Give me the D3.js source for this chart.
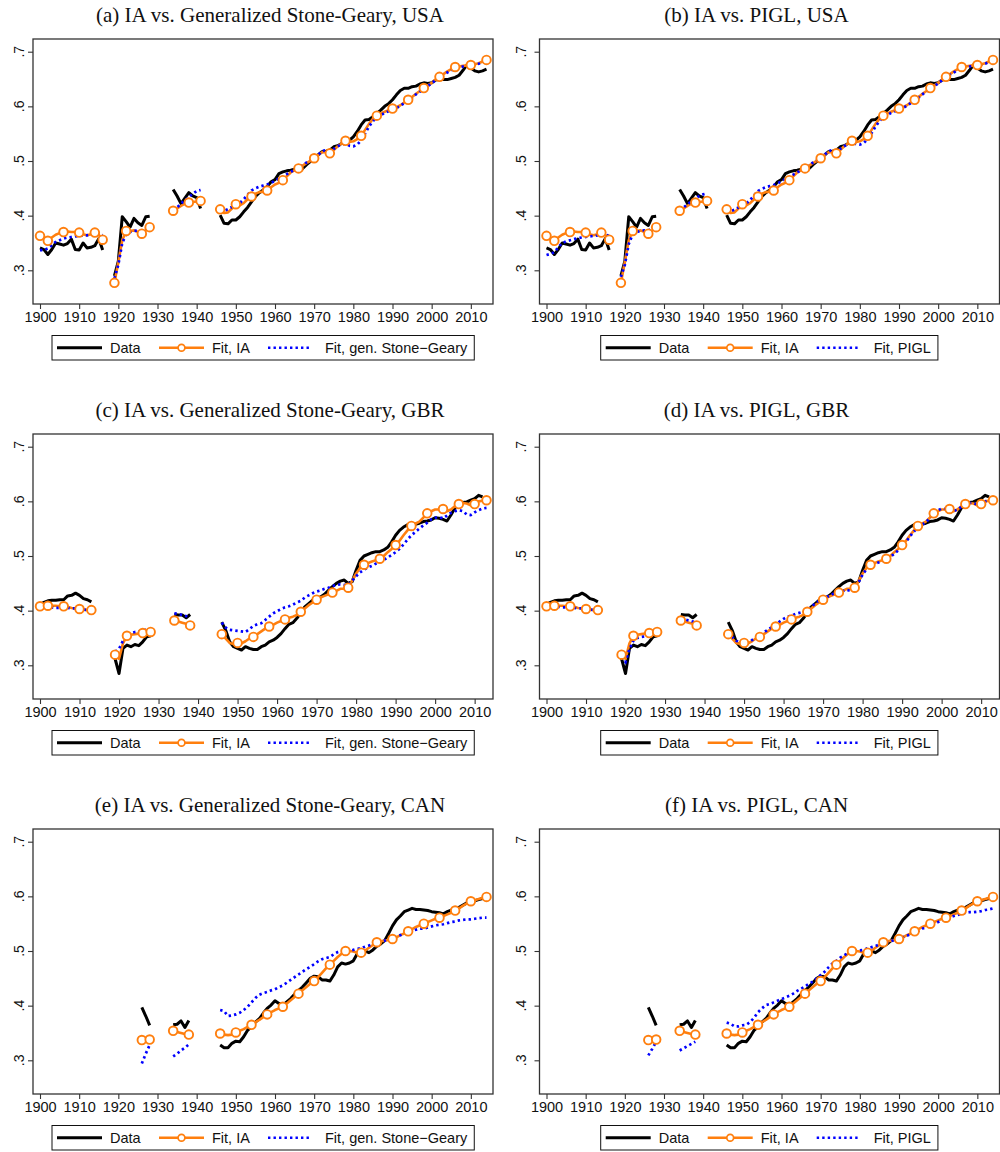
<!DOCTYPE html>
<html>
<head>
<meta charset="utf-8">
<script src="https://cdn.jsdelivr.net/npm/d3@7"></script>
<style>
  html, body { margin: 0; padding: 0; background: #fff; }
  svg { display: block; }
</style>
</head>
<body>
<script>
// ---------- DATA (segments: [startYear, values]) ----------
const xTickValues = [1900, 1910, 1920, 1930, 1940, 1950, 1960, 1970, 1980, 1990, 2000, 2010];
const yTickValues = [0.3, 0.4, 0.5, 0.6, 0.7];
const yTickLabels = [".3", ".4", ".5", ".6", ".7"];

const usaData = [
  [1900, [0.341,0.338,0.329,0.338,0.350,0.348,0.346,0.349,0.357,0.338,0.337,0.350,0.341,0.342,0.345,0.358,0.337]],
  [1919, [0.290,0.317,0.398,0.389,0.379,0.395,0.387,0.382,0.398,0.399]],
  [1934, [0.448,0.436,0.422,0.432,0.442,0.436,0.433,0.413]],
  [1946, [0.401,0.386,0.385,0.392,0.392,0.398,0.407,0.415,0.425,0.435,
          0.442,0.447,0.453,0.462,0.466,0.477,0.480,0.482,0.483,0.485,
          0.486,0.486,0.493,0.499,0.505,0.511,0.517,0.518,0.520,0.526,
          0.528,0.532,0.535,0.538,0.544,0.554,0.566,0.575,0.576,0.581,
          0.587,0.593,0.600,0.605,0.612,0.621,0.629,0.633,0.633,0.636,
          0.637,0.641,0.643,0.642,0.643,0.648,0.650,0.649,0.649,0.651,
          0.653,0.657,0.666,0.676,0.670,0.665,0.663,0.665,0.668]]
];
const usaIA = [
  [1900, [0.363,0.357,0.354,0.360,0.365,0.368,0.370,0.371,0.370,0.370,0.369,0.366,0.364,0.366,0.369,0.365,0.356]],
  [1919, [0.277,0.315,0.355,0.372,0.372,0.373,0.370,0.367,0.373,0.379]],
  [1934, [0.409,0.413,0.418,0.422,0.424,0.425,0.426,0.427]],
  [1946, [0.4115,0.405,0.406,0.413,0.421,0.419,0.423,0.430,0.435,0.440,
          0.443,0.444,0.446,0.452,0.457,0.460,0.465,0.472,0.479,0.483,
          0.4865,0.491,0.496,0.500,0.505,0.511,0.516,0.516,0.514,0.520,
          0.527,0.532,0.537,0.535,0.536,0.540,0.546,0.557,0.568,0.577,
          0.583,0.587,0.590,0.593,0.596,0.598,0.602,0.607,0.612,0.617,
          0.623,0.628,0.6335,0.638,0.643,0.649,0.654,0.659,0.664,0.668,
          0.672,0.673,0.674,0.675,0.6756,0.677,0.679,0.682,0.685]]
];
const usaGSG = [
  [1900, [0.337,0.337,0.340,0.346,0.352,0.355,0.358,0.360,0.361,0.362,0.363,0.364,0.364,0.365,0.366,0.366,0.364]],
  [1919, [0.285,0.310,0.350,0.366,0.370,0.372,0.373,0.373,0.376,0.380]],
  [1934, [0.410,0.415,0.422,0.428,0.434,0.440,0.445,0.447]],
  [1946, [0.408,0.409,0.412,0.416,0.419,0.423,0.430,0.438,0.446,0.450,
          0.453,0.455,0.457,0.460,0.464,0.468,0.471,0.476,0.480,0.484,
          0.487,0.492,0.497,0.501,0.505,0.511,0.518,0.520,0.518,0.522,
          0.527,0.530,0.532,0.528,0.527,0.530,0.538,0.550,0.563,0.573,
          0.580,0.584,0.588,0.591,0.594,0.597,0.601,0.606,0.611,0.616,
          0.622,0.627,0.632,0.637,0.642,0.648,0.653,0.658,0.662,0.666,
          0.669,0.671,0.673,0.674,0.675,0.676,0.678,0.681,0.683]]
];
const usaPIGL = [
  [1900, [0.328,0.330,0.333,0.342,0.350,0.353,0.355,0.357,0.359,0.360,0.361,0.362,0.363,0.364,0.365,0.365,0.363]],
  [1919, [0.288,0.310,0.348,0.366,0.370,0.372,0.373,0.373,0.376,0.380]],
  [1934, [0.410,0.415,0.421,0.426,0.431,0.436,0.439,0.441]],
  [1946, [0.407,0.408,0.411,0.415,0.418,0.422,0.429,0.437,0.445,0.449,
          0.452,0.454,0.456,0.459,0.463,0.467,0.470,0.475,0.479,0.483,
          0.487,0.492,0.497,0.501,0.505,0.511,0.518,0.520,0.518,0.522,
          0.527,0.531,0.534,0.531,0.530,0.533,0.540,0.551,0.563,0.573,
          0.580,0.584,0.588,0.591,0.594,0.597,0.601,0.606,0.611,0.616,
          0.622,0.627,0.632,0.637,0.642,0.648,0.653,0.658,0.662,0.666,
          0.669,0.671,0.673,0.674,0.675,0.676,0.678,0.681,0.683]]
];

const gbrData = [
  [1900, [0.412,0.415,0.418,0.419,0.419,0.420,0.420,0.427,0.428,0.432,0.428,0.422,0.420,0.416]],
  [1919, [0.312,0.285,0.331,0.337,0.334,0.338,0.336,0.343,0.352,0.354]],
  [1934, [0.393,0.392,0.392,0.387,0.393]],
  [1946, [0.379,0.364,0.343,0.334,0.331,0.328,0.334,0.331,0.329,0.329,
          0.334,0.337,0.343,0.346,0.351,0.358,0.367,0.375,0.378,0.386,
          0.396,0.407,0.413,0.419,0.422,0.425,0.430,0.437,0.444,0.450,
          0.454,0.456,0.450,0.453,0.474,0.492,0.500,0.503,0.506,0.508,
          0.508,0.511,0.516,0.526,0.538,0.547,0.553,0.557,0.557,0.558,
          0.560,0.563,0.564,0.566,0.570,0.569,0.567,0.564,0.575,0.588,
          0.596,0.598,0.599,0.602,0.605,0.611,0.608]]
];
const gbrIA = [
  [1900, [0.408,0.409,0.409,0.409,0.409,0.408,0.408,0.407,0.405,0.404,0.403,0.402,0.401,0.401]],
  [1919, [0.3195,0.312,0.340,0.354,0.356,0.357,0.358,0.359,0.361,0.361]],
  [1934, [0.382,0.380,0.378,0.376,0.373]],
  [1946, [0.357,0.349,0.341,0.339,0.341,0.340,0.344,0.349,0.352,0.357,
          0.362,0.367,0.371,0.374,0.378,0.381,0.384,0.387,0.389,0.392,
          0.398,0.404,0.410,0.415,0.420,0.424,0.427,0.430,0.433,0.436,
          0.440,0.440,0.442,0.455,0.468,0.478,0.484,0.487,0.490,0.492,
          0.495,0.500,0.507,0.513,0.520,0.528,0.538,0.547,0.555,0.559,
          0.563,0.570,0.578,0.582,0.585,0.585,0.586,0.582,0.585,0.591,
          0.595,0.597,0.596,0.593,0.595,0.600,0.601,0.602]]
];
const gbrGSG = [
  [1900, [0.409,0.408,0.407,0.406,0.405,0.405,0.405,0.405,0.404,0.404,0.403,0.402,0.401,0.400]],
  [1919, [0.325,0.330,0.345,0.355,0.359,0.361,0.362,0.363,0.366,0.366]],
  [1934, [0.395,0.394,0.392,0.390,0.389]],
  [1946, [0.378,0.369,0.365,0.364,0.363,0.362,0.361,0.366,0.372,0.375,
          0.377,0.383,0.389,0.395,0.399,0.403,0.406,0.408,0.411,0.415,
          0.418,0.424,0.428,0.432,0.435,0.437,0.440,0.442,0.445,0.447,
          0.448,0.447,0.447,0.455,0.463,0.470,0.475,0.479,0.482,0.486,
          0.489,0.493,0.497,0.502,0.507,0.513,0.521,0.530,0.538,0.544,
          0.550,0.556,0.561,0.567,0.570,0.571,0.569,0.574,0.579,0.582,
          0.584,0.582,0.576,0.575,0.580,0.584,0.587,0.588]]
];
const gbrPIGL = [
  [1900, [0.408,0.408,0.407,0.407,0.406,0.406,0.405,0.405,0.404,0.404,0.403,0.402,0.401,0.400]],
  [1919, [0.315,0.306,0.330,0.345,0.350,0.352,0.353,0.357,0.360,0.362]],
  [1934, [0.385,0.384,0.382,0.380,0.378]],
  [1946, [0.360,0.352,0.345,0.341,0.340,0.342,0.346,0.351,0.355,0.360,
          0.365,0.370,0.375,0.380,0.385,0.389,0.391,0.394,0.396,0.398,
          0.402,0.407,0.413,0.418,0.421,0.425,0.429,0.432,0.434,0.436,
          0.438,0.436,0.438,0.452,0.466,0.476,0.482,0.485,0.488,0.490,
          0.493,0.498,0.504,0.510,0.517,0.526,0.536,0.545,0.552,0.557,
          0.562,0.569,0.577,0.583,0.587,0.586,0.585,0.582,0.585,0.590,
          0.594,0.597,0.597,0.594,0.595,0.600,0.602,0.603]]
];

const canData = [
  [1926, [0.397,0.381,0.364]],
  [1934, [0.365,0.366,0.372,0.360,0.373]],
  [1946, [0.328,0.323,0.323,0.331,0.335,0.334,0.343,0.355,0.361,0.370,
          0.376,0.386,0.395,0.401,0.409,0.404,0.401,0.407,0.413,0.421,
          0.428,0.434,0.442,0.450,0.454,0.453,0.447,0.447,0.445,0.456,
          0.471,0.478,0.476,0.478,0.482,0.495,0.499,0.500,0.497,0.502,
          0.509,0.513,0.519,0.532,0.546,0.557,0.564,0.572,0.575,0.578,
          0.576,0.576,0.575,0.574,0.572,0.571,0.570,0.568,0.572,0.575,
          0.576,0.580,0.584,0.588,0.590,0.592,0.594,0.596,0.598]]
];
const canIA = [
  [1926, [0.337,0.337,0.338]],
  [1934, [0.354,0.352,0.350,0.348,0.347]],
  [1946, [0.349,0.347,0.346,0.347,0.351,0.354,0.357,0.361,0.365,0.370,
          0.374,0.379,0.384,0.388,0.392,0.395,0.398,0.404,0.410,0.416,
          0.422,0.428,0.434,0.440,0.445,0.452,0.460,0.468,0.475,0.482,
          0.489,0.495,0.500,0.500,0.499,0.497,0.497,0.501,0.506,0.511,
          0.516,0.518,0.519,0.520,0.522,0.525,0.529,0.532,0.536,0.540,
          0.544,0.547,0.550,0.553,0.556,0.559,0.561,0.564,0.567,0.570,
          0.574,0.578,0.583,0.587,0.591,0.593,0.595,0.597,0.599]]
];
const canGSG = [
  [1926, [0.294,0.312,0.328]],
  [1934, [0.307,0.312,0.318,0.323,0.329]],
  [1946, [0.392,0.390,0.381,0.382,0.384,0.387,0.392,0.398,0.406,0.414,
          0.420,0.423,0.425,0.428,0.430,0.434,0.437,0.442,0.447,0.452,
          0.457,0.462,0.467,0.471,0.476,0.481,0.485,0.487,0.489,0.494,
          0.498,0.500,0.501,0.501,0.502,0.504,0.505,0.508,0.510,0.512,
          0.515,0.517,0.519,0.522,0.524,0.527,0.529,0.532,0.534,0.537,
          0.539,0.541,0.541,0.543,0.545,0.547,0.548,0.549,0.551,0.553,
          0.554,0.556,0.557,0.558,0.558,0.559,0.560,0.561,0.561]]
];
const canPIGL = [
  [1926, [0.309,0.321,0.334]],
  [1934, [0.318,0.322,0.326,0.330,0.334]],
  [1946, [0.369,0.367,0.362,0.362,0.364,0.365,0.370,0.378,0.388,0.395,
          0.401,0.403,0.406,0.409,0.412,0.415,0.418,0.422,0.427,0.431,
          0.435,0.440,0.444,0.450,0.456,0.462,0.470,0.477,0.482,0.488,
          0.492,0.497,0.500,0.501,0.501,0.502,0.505,0.507,0.509,0.512,
          0.514,0.516,0.518,0.521,0.523,0.525,0.528,0.531,0.534,0.537,
          0.541,0.544,0.547,0.550,0.553,0.556,0.559,0.562,0.564,0.566,
          0.568,0.570,0.571,0.571,0.572,0.573,0.575,0.576,0.578]]
];

const panelTitles = [
  "(a) IA vs. Generalized Stone-Geary, USA", "(b) IA vs. PIGL, USA",
  "(c) IA vs. Generalized Stone-Geary, GBR", "(d) IA vs. PIGL, GBR",
  "(e) IA vs. Generalized Stone-Geary, CAN", "(f) IA vs. PIGL, CAN"
];
const legendLabels = ["Data", "Fit, IA", "Fit, gen. Stone\u2212Geary", "Fit, PIGL"];

// ---------- LAYOUT ----------
const W = 1000, H = 1152;
const SANS = "'Liberation Sans', Arial, Helvetica, sans-serif";
const SERIF = "'Liberation Serif', 'Times New Roman', Times, serif";
const C_DATA = "#000000", C_IA = "#ff7f0e", C_ALT = "#0000ff", C_FRAME = "#333333";

const cols = [
  { fl: 33, fr: 493, titleX: 270, yLabX: 24, legX: 52 },
  { fl: 539.5, fr: 999.5, titleX: 756.5, yLabX: 525.5, legX: 600.7 }
];
const rowOff = [0, 395, 790];

const panels = [
  { title: panelTitles[0], col: 0, row: 0, data: usaData, ia: usaIA, alt: usaGSG, altLab: legendLabels[2], last: 2014 },
  { title: panelTitles[1], col: 1, row: 0, data: usaData, ia: usaIA, alt: usaPIGL, altLab: legendLabels[3], last: 2014 },
  { title: panelTitles[2], col: 0, row: 1, data: gbrData, ia: gbrIA, alt: gbrGSG, altLab: legendLabels[2], last: 2013 },
  { title: panelTitles[3], col: 1, row: 1, data: gbrData, ia: gbrIA, alt: gbrPIGL, altLab: legendLabels[3], last: 2013 },
  { title: panelTitles[4], col: 0, row: 2, data: canData, ia: canIA, alt: canGSG, altLab: legendLabels[2], last: 2014 },
  { title: panelTitles[5], col: 1, row: 2, data: canData, ia: canIA, alt: canPIGL, altLab: legendLabels[3], last: 2014 }
];

const svg = d3.select("body").append("svg")
  .attr("width", W).attr("height", H)
  .attr("viewBox", `0 0 ${W} ${H}`);
svg.append("rect").attr("width", W).attr("height", H).attr("fill", "#fff");

const toPts = seg => seg[1].map((v, i) => ({ year: seg[0] + i, v }));

panels.forEach(p => {
  const c = cols[p.col], off = rowOff[p.row];
  const top = 39 + off, bot = top + 265;
  const g = svg.append("g");

  const x = d3.scaleLinear().domain([1900, p.last]).range([c.fl + 7, c.fr - 6.5]);
  const y = d3.scaleLinear().domain([0.3, 0.7]).range([top + 231.3, top + 12.7]);

  // title
  g.append("text").attr("x", c.titleX).attr("y", 21.7 + off)
    .attr("text-anchor", "middle").attr("font-family", SERIF)
    .attr("font-size", 21).attr("fill", "#111").text(p.title);

  // frame
  g.append("rect").attr("x", c.fl).attr("y", top)
    .attr("width", c.fr - c.fl).attr("height", bot - top)
    .attr("fill", "none").attr("stroke", C_FRAME).attr("stroke-width", 1.3);

  // x axis
  const xa = g.append("g").attr("transform", `translate(0,${bot})`)
    .call(d3.axisBottom(x).tickValues(xTickValues).tickSize(5).tickPadding(3).tickFormat(d3.format("d")));
  xa.select(".domain").remove();
  xa.selectAll(".tick line").attr("stroke", C_FRAME).attr("stroke-width", 1.1);
  xa.selectAll(".tick text").attr("font-family", SANS).attr("font-size", 14.5).attr("fill", "#111");

  // y axis
  const ya = g.append("g").attr("transform", `translate(${c.fl},0)`)
    .call(d3.axisLeft(y).tickValues(yTickValues).tickSize(5).tickFormat(""));
  ya.select(".domain").remove();
  ya.selectAll(".tick line").attr("stroke", C_FRAME).attr("stroke-width", 1.1);
  yTickValues.forEach((v, i) => {
    g.append("text")
      .attr("transform", `translate(${c.yLabX},${y(v)}) rotate(-90)`)
      .attr("text-anchor", "middle").attr("font-family", SANS)
      .attr("font-size", 14).attr("fill", "#111").text(yTickLabels[i]);
  });

  const line = d3.line().x(d => x(d.year)).y(d => y(d.v));

  // data
  p.data.forEach(seg => {
    g.append("path").attr("d", line(toPts(seg))).attr("fill", "none")
      .attr("stroke", C_DATA).attr("stroke-width", 3).attr("stroke-linejoin", "round");
  });
  // IA line
  p.ia.forEach(seg => {
    g.append("path").attr("d", line(toPts(seg))).attr("fill", "none")
      .attr("stroke", C_IA).attr("stroke-width", 2.6).attr("stroke-linejoin", "round");
  });
  // alternative fit (dotted)
  p.alt.forEach(seg => {
    g.append("path").attr("d", line(toPts(seg))).attr("fill", "none")
      .attr("stroke", C_ALT).attr("stroke-width", 2.7)
      .attr("stroke-dasharray", "2.4,3.1");
  });
  // IA markers: segment ends and every 4th year
  p.ia.forEach(seg => {
    const pts = toPts(seg);
    const marks = pts.filter((d, i) => i === 0 || i === pts.length - 1 || d.year % 4 === 2);
    g.selectAll(null).data(marks).enter().append("circle")
      .attr("cx", d => x(d.year)).attr("cy", d => y(d.v)).attr("r", 4.3)
      .attr("fill", "#fff").attr("stroke", C_IA).attr("stroke-width", 1.9);
  });

  // legend
  const ly = 335.5 + off, lh = 24.5, cy = ly + lh / 2;
  const lg = g.append("g");
  const box = lg.append("rect").attr("x", c.legX).attr("y", ly).attr("height", lh)
    .attr("fill", "#fff").attr("stroke", "#111").attr("stroke-width", 1);
  const L = c.legX;
  lg.append("line").attr("x1", L + 5).attr("x2", L + 50).attr("y1", cy).attr("y2", cy)
    .attr("stroke", C_DATA).attr("stroke-width", 3);
  lg.append("text").attr("x", L + 58).attr("y", cy + 5).attr("font-family", SANS)
    .attr("font-size", 14.5).attr("fill", "#111").text(legendLabels[0]);
  lg.append("line").attr("x1", L + 107).attr("x2", L + 152).attr("y1", cy).attr("y2", cy)
    .attr("stroke", C_IA).attr("stroke-width", 2.6);
  lg.append("circle").attr("cx", L + 129.5).attr("cy", cy).attr("r", 3.4)
    .attr("fill", "#fff").attr("stroke", C_IA).attr("stroke-width", 1.7);
  lg.append("text").attr("x", L + 160).attr("y", cy + 5).attr("font-family", SANS)
    .attr("font-size", 14.5).attr("fill", "#111").text(legendLabels[1]);
  lg.append("line").attr("x1", L + 216).attr("x2", L + 260).attr("y1", cy).attr("y2", cy)
    .attr("stroke", C_ALT).attr("stroke-width", 2.7).attr("stroke-dasharray", "2.4,3.1");
  const t3 = lg.append("text").attr("x", L + 273).attr("y", cy + 5).attr("font-family", SANS)
    .attr("font-size", 14.5).attr("fill", "#111").text(p.altLab);
  const tw = t3.node().getComputedTextLength();
  box.attr("width", 273 + tw + 7);
});
</script>
</body>
</html>
